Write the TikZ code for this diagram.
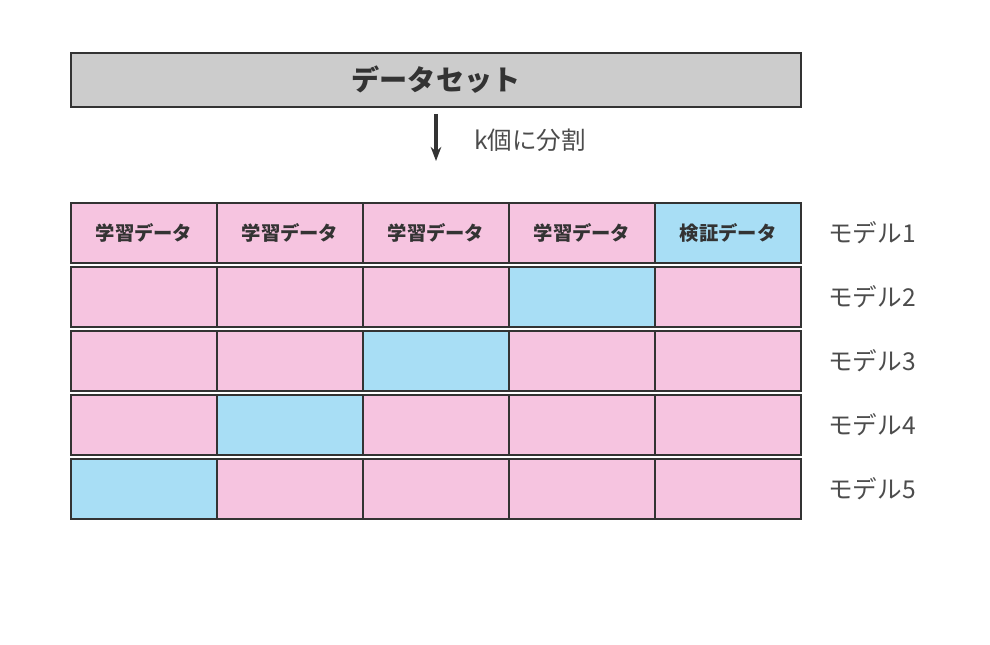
\documentclass[tikz,border=0pt]{standalone}
\usepackage{fontspec}
\setmainfont{Noto Sans CJK JP}
\usetikzlibrary{arrows.meta}
\definecolor{trainpink}{HTML}{F6C4E0}
\definecolor{validblue}{HTML}{A8DEF5}
\definecolor{edgegray}{HTML}{333333}
\definecolor{headgray}{HTML}{CCCCCC}
\tikzset{
  cellbox/.style={draw=edgegray, line width=1.2pt, minimum width=146*0.02cm, minimum height=60*0.02cm, inner sep=0pt, font=\bfseries\fontsize{11}{11}\selectfont, text=edgegray},
  modellabel/.style={anchor=west, font=\fontsize{14}{14}\selectfont, text=black!70}
}
\begin{document}
\begin{tikzpicture}[x=0.02cm, y=-0.02cm]
	
	% Bounding box
	\useasboundingbox (0,0) rectangle (990,645);
	
	% Dataset
	\node[draw=edgegray, fill=headgray, line width=1.2pt, minimum width=730*0.02cm, minimum height=54*0.02cm, font=\bfseries\fontsize{16}{16}\selectfont, text=edgegray] (dataset) at (436,80) {データセット};
	
	% Split arrow
	\coordinate (splittop) at (436,114);
	\coordinate (splitbot) at (436,161);
	\draw[-{Stealth[length=8pt]}, line width=2.5pt, edgegray] (splittop) -- (splitbot);
	\node[anchor=west, font=\fontsize{14}{14}\selectfont, text=black!70] (splitlabel) at (468,140) {k個に分割};
	
	% Folds
	\foreach \r in {1,...,5} {
		\pgfmathtruncatemacro{\valcol}{6-\r}
		\foreach \c in {1,...,5} {
			\ifnum\c=\valcol
				\node[cellbox, fill=validblue] (cell\r\c) at ({71+73+146*(\c-1)},{233+64*(\r-1)}) {\ifnum\r=1 検証データ\fi};
			\else
				\node[cellbox, fill=trainpink] (cell\r\c) at ({71+73+146*(\c-1)},{233+64*(\r-1)}) {\ifnum\r=1 学習データ\fi};
			\fi
		}
		\node[modellabel] (model\r) at (822,{233+64*(\r-1)}) {モデル\r};
	}
	
\end{tikzpicture}
\end{document}
